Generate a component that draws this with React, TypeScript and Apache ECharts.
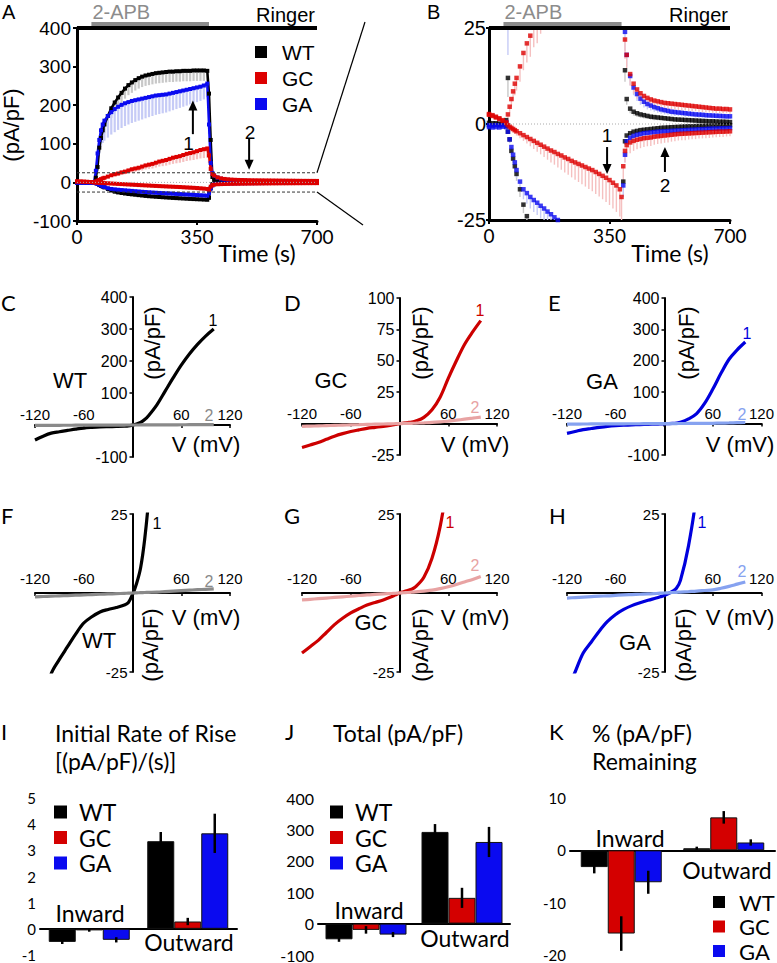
import React, { useEffect, useRef } from 'react';
import * as echarts from 'echarts';

// ---------- Time courses (A, B) ----------
const T = [0,10,20,30,40,
 50,55,60,65,70,75,80,
 90,100,110,120,130,140,150,160,170,180,
 190,200,210,220,230,240,250,260,270,280,
 290,300,310,320,330,340,350,360,370,380,
 385,390,395,
 400,410,420,430,440,450,460,470,480,490,
 500,510,520,530,540,550,560,570,580,590,
 600,610,620,630,640,650,660,670,680,690,
 700];

const WT_OUT = [0.3,0.2,0.2,0.1,0.1,
 1,12,40,90,115,135,150,
 172,192,207,220,232,243,252,259,265,270,
 274,277,279,281,283,284,285,286,287,287,
 288,288,289,289,289,290,290,290,290,289,
 230,110,14,
 6.5,4,3.2,2.8,2.5,2.3,2.1,1.9,1.8,1.7,
 1.6,1.5,1.4,1.3,1.2,1.15,1.1,1.05,1,0.95,
 0.9,0.85,0.8,0.75,0.7,0.7,0.65,0.6,0.6,0.55,
 0.5];
const WT_IN = [-0.3,-0.3,-0.2,-0.2,-0.1,
 -0.5,-2,-4,-7,-9,-11,-13,
 -17,-21,-24,-26,-27.5,-28.8,-30,-31,-32,-33,
 -34,-35,-35.8,-36.5,-37.2,-37.8,-38.4,-39,-39.6,-40.2,
 -40.7,-41.2,-41.7,-42.2,-42.7,-43.2,-43.6,-44,-44.5,-45,
 -40,-15,-4.5,
 -3,-2.4,-2,-1.8,-1.6,-1.5,-1.4,-1.3,-1.2,-1.1,
 -1,-0.95,-0.9,-0.85,-0.8,-0.75,-0.7,-0.65,-0.6,-0.6,
 -0.55,-0.5,-0.5,-0.45,-0.45,-0.4,-0.4,-0.35,-0.35,-0.3,
 -0.3];
const GC_OUT = [2.6,2.3,1.9,1.5,1,
 0.5,2.5,4.5,6.5,8.5,10.5,12,
 15,18.5,21,23,26,28,31,34,36,38,
 41,44,46,48,51,54,56,58,61,64,
 66,68,71,74,76,78,81,84,86,88,
 70,35,22,
 18,13,10.5,9,8,7.3,6.8,6.4,6.1,5.9,
 5.7,5.5,5.4,5.3,5.2,5.1,5,4.9,4.8,4.7,
 4.6,4.5,4.4,4.3,4.2,4.1,4,4,3.9,3.9,
 3.8];
const GC_IN = [2.4,2.1,1.7,1.3,0.8,
 0.2,-0.3,-0.7,-1,-1.3,-1.6,-1.9,
 -2.4,-2.9,-3.4,-3.9,-4.4,-4.9,-5.4,-5.9,-6.4,-6.9,
 -7.3,-7.8,-8.2,-8.7,-9.1,-9.6,-10,-10.4,-10.8,-11.2,
 -11.6,-12,-12.5,-13,-13.5,-14,-14.6,-15.3,-16,-17,
 -19,-11,-7,
 -5.5,-4.8,-4.4,-4.1,-3.9,-3.7,-3.6,-3.5,-3.3,-3.2,
 -3.1,-3,-2.9,-2.8,-2.7,-2.6,-2.55,-2.5,-2.45,-2.4,
 -2.35,-2.3,-2.25,-2.2,-2.15,-2.1,-2.05,-2,-2,-1.95,
 -1.9];
const GA_OUT = [-0.3,-0.4,-0.3,-0.4,-0.3,
 0.5,30,75,110,135,150,160,
 172,182,190,196,201,205,208,211,213,215,
 217,219,221,223,225,226,227,228,230,232,
 234,236,238,240,242,244,246,248,251,256,
 150,50,24,
 18,12.5,9.5,7.8,6.6,5.8,5.2,4.8,4.4,4.1,
 3.8,3.6,3.4,3.2,3.1,3,2.9,2.8,2.7,2.6,
 2.5,2.45,2.4,2.3,2.25,2.2,2.15,2.1,2.05,2,
 2];
const GA_IN = [-0.8,-0.9,-0.8,-0.9,-0.7,
 -0.8,-2,-4,-6,-8,-10,-12,
 -15,-17,-18,-19,-19.8,-20.5,-21.3,-22,-22.8,-23.5,
 -24.3,-25,-25.6,-26.2,-26.8,-27.3,-27.8,-28.3,-28.8,-29.3,
 -29.8,-30.3,-30.8,-31.3,-31.8,-32.3,-32.8,-33.3,-33.8,-34.5,
 -28,-16,-8,
 -4.5,-3.6,-3.1,-2.8,-2.6,-2.4,-2.3,-2.2,-2.1,-2,
 -1.95,-1.9,-1.85,-1.8,-1.75,-1.7,-1.65,-1.6,-1.55,-1.5,
 -1.45,-1.4,-1.35,-1.3,-1.25,-1.2,-1.2,-1.15,-1.1,-1.1,
 -1.05];

// SEM (drawn downward from each point)
const WT_OUT_SEM = [0.3,0.3,0.3,0.3,0.3,
 0.5,5,10,15,18,20,22,
 24,25,25,26,26,26,26,27,27,27,
 27,27,27,27,27,27,27,27,27,27,
 27,27,27,27,27,27,27,27,27,27,
 30,20,3,
 1.5,1.2,1,1,0.9,0.9,0.8,0.8,0.8,0.7,
 0.7,0.7,0.7,0.6,0.6,0.6,0.6,0.6,0.5,0.5,
 0.5,0.5,0.5,0.5,0.5,0.5,0.5,0.5,0.5,0.5,
 0.5];
const WT_IN_SEM = [0.3,0.3,0.3,0.3,0.3,
 0.3,0.5,0.8,1,1.2,1.5,1.8,
 2,2.2,2.4,2.6,2.8,3,3,3.2,3.2,3.4,
 3.4,3.5,3.5,3.6,3.6,3.7,3.7,3.8,3.8,3.8,
 3.9,3.9,4,4,4,4,4,4,4,4,
 3,2,1,
 0.6,0.5,0.5,0.5,0.4,0.4,0.4,0.4,0.4,0.4,
 0.3,0.3,0.3,0.3,0.3,0.3,0.3,0.3,0.3,0.3,
 0.3,0.3,0.3,0.3,0.3,0.3,0.3,0.3,0.3,0.3,
 0.3];
const GC_OUT_SEM = [0.5,0.5,0.5,0.5,0.5,
 0.5,1,1.5,2,2.5,3,3.3,
 4,4.5,5,5.5,6,7,7.5,8,8.5,9,
 10,10.5,11,12,12.5,13,14,14.5,15,16,
 16.5,17,18,18.5,19,20,21,22,23,24,
 20,10,5,
 3.5,3,2.6,2.4,2.2,2,2,1.9,1.8,1.8,
 1.7,1.7,1.6,1.6,1.5,1.5,1.5,1.4,1.4,1.4,
 1.3,1.3,1.3,1.3,1.2,1.2,1.2,1.2,1.1,1.1,
 1.1];
const GC_IN_SEM = [0.5,0.5,0.5,0.5,0.5,
 0.5,0.6,0.7,0.8,0.9,1,1.1,
 1.3,1.5,1.7,1.9,2.1,2.3,2.5,2.7,2.9,3.1,
 3.3,3.5,3.7,3.9,4.1,4.3,4.5,4.7,4.9,5.1,
 5.3,5.5,5.7,5.9,6.1,6.3,6.5,6.7,6.9,7.1,
 6,4,3,
 3,2.8,2.6,2.5,2.4,2.3,2.2,2.2,2.1,2,
 2,1.9,1.9,1.8,1.8,1.7,1.7,1.7,1.6,1.6,
 1.6,1.5,1.5,1.5,1.5,1.4,1.4,1.4,1.4,1.3,
 1.3];
const GA_OUT_SEM = [0.4,0.4,0.4,0.4,0.4,
 1,12,25,35,42,48,52,
 56,58,60,60,60,59,58,57,56,55,
 54,53,52,51,50,49,48,47,46,45,
 44,43,42,41,40,39,38,37,36,35,
 25,10,5,
 3,2.5,2,1.8,1.6,1.5,1.4,1.3,1.2,1.2,
 1.1,1.1,1,1,1,0.9,0.9,0.9,0.9,0.8,
 0.8,0.8,0.8,0.8,0.7,0.7,0.7,0.7,0.7,0.7,
 0.7];
const GA_IN_SEM = [0.3,0.3,0.3,0.3,0.3,
 0.3,0.6,1,1.3,1.6,1.9,2.1,
 2.4,2.6,2.8,3,3.1,3.2,3.3,3.4,3.5,3.6,
 3.7,3.8,3.9,4,4.1,4.2,4.3,4.4,4.5,4.6,
 4.7,4.8,4.9,5,5.1,5.2,5.3,5.4,5.5,5.6,
 5,3,2,
 1.5,1.4,1.3,1.2,1.2,1.1,1.1,1,1,1,
 0.9,0.9,0.9,0.9,0.8,0.8,0.8,0.8,0.8,0.7,
 0.7,0.7,0.7,0.7,0.7,0.6,0.6,0.6,0.6,0.6,
 0.6];

// application bar (s)
const APB_START = 42;
const APB_END = 385;

// ---------- I-V curves (C-H) ----------
const IV_V = [-120,-110,-100,-90,-80,-70,-60,-50,-40,-30,-20,-10,-5,0,5,10,15,20,30,40,50,60,70,80,90,100];
const WT1 = [-47,-35,-25.5,-21,-17,-13,-9.5,-7.5,-6,-5.2,-4.6,-3.8,-3,-0.5,3,8,17,30,63,105,147,187,222,252,278,300];
const WT2 = [-1.2,-1.1,-1,-0.9,-0.8,-0.7,-0.6,-0.5,-0.4,-0.3,-0.2,-0.1,-0.05,0,0.05,0.1,0.15,0.2,0.3,0.45,0.6,0.75,0.9,1.05,1.15,1.3];
const GC1 = [-19,-17,-15,-12.5,-10,-8,-6.3,-5,-3.8,-3,-2.2,-1.2,-0.6,0,0.4,0.8,1.2,2,5,11,21,36,50,63,73,82];
const GC2 = [-2.2,-2,-1.8,-1.6,-1.4,-1.2,-1,-0.8,-0.6,-0.45,-0.3,-0.15,-0.08,0,0.08,0.15,0.25,0.35,0.6,0.9,1.4,2,2.7,3.5,4.3,5.2];
const GA1 = [-31,-25,-19,-15.5,-12,-9,-6.8,-5.2,-4,-3.1,-2.3,-1.6,-1.2,-0.8,-0.2,0.5,1.5,4,15,32,65,110,160,205,235,260];
const GA2 = [-1.6,-1.45,-1.3,-1.15,-1,-0.9,-0.75,-0.6,-0.5,-0.4,-0.3,-0.15,-0.07,0,0.07,0.15,0.22,0.3,0.45,0.6,0.8,1,1.5,2.1,2.8,3.5];

// ---------- Bar charts (I-K) ----------
const BAR_CATS = ['Inward', 'Outward'];
const RATE_WT = [-0.5, 3.35];
const RATE_GC = [-0.06, 0.28];
const RATE_GA = [-0.42, 3.65];
const RATE_WT_ERR = [0.08, 0.35];
const RATE_GC_ERR = [0.05, 0.14];
const RATE_GA_ERR = [0.1, 0.75];
const TOTAL_WT = [-50, 292];
const TOTAL_GC = [-20, 82];
const TOTAL_GA = [-35, 260];
const TOTAL_WT_ERR = [8, 25];
const TOTAL_GC_ERR = [12, 32];
const TOTAL_GA_ERR = [8, 48];
const REM_WT = [-3.2, 0.4];
const REM_GC = [-15.9, 6.3];
const REM_GA = [-6.1, 1.5];
const REM_WT_ERR = [1.2, 0.3];
const REM_GC_ERR = [3.3, 1.2];
const REM_GA_ERR = [2.2, 0.6];

const GENO = ['WT', 'GC', 'GA'];
const C_BLACK = '#000000';
const C_RED = '#dd0000';
const C_BLUE = '#0a0af0';
const ARIAL = "'Liberation Sans', Arial, sans-serif";
const CAL = "Lato, 'Open Sans', sans-serif";
const BAR_W = 27;

export default function App() {
  const ref = useRef<HTMLDivElement>(null);
  useEffect(() => {
    const chart = echarts.init(ref.current as HTMLDivElement, null, { renderer: 'svg' });

    const grids = [
      { left: 77, top: 28, width: 240, height: 193 },
      { left: 489, top: 28, width: 241, height: 192 },
      { left: 35, top: 297, width: 195, height: 160 },
      { left: 302, top: 298, width: 195, height: 157 },
      { left: 567, top: 298, width: 195, height: 157 },
      { left: 35, top: 514, width: 195, height: 158 },
      { left: 302, top: 514, width: 195, height: 158 },
      { left: 567, top: 514, width: 195, height: 158 },
      { left: 40, top: 798, width: 197, height: 157 },
      { left: 318, top: 798, width: 192, height: 157 },
      { left: 570, top: 798, width: 205, height: 157 },
    ];

    const xAxes: any[] = [];
    const yAxes: any[] = [];
    const hide0 = (v: number) => (v === 0 ? '' : String(v));

    // A, B time axes
    [0, 1].forEach((g) => {
      xAxes.push({
        gridIndex: g, type: 'value', min: 0, max: 700, interval: 350,
        axisLine: { onZero: false, lineStyle: { color: '#000', width: 3 } },
        axisTick: { length: 4, lineStyle: { color: '#000', width: 2 } },
        axisLabel: { fontFamily: CAL, fontSize: 19, color: '#000', margin: 6 },
        splitLine: { show: false },
      });
    });
    yAxes.push({
      gridIndex: 0, type: 'value', min: -100, max: 400, interval: 100,
      axisLine: { onZero: false, lineStyle: { color: '#000', width: 3 } },
      axisTick: { length: 4, lineStyle: { color: '#000', width: 2 } },
      axisLabel: { fontFamily: ARIAL, fontSize: 19, color: '#000', margin: 6 },
      splitLine: { show: false },
    });
    yAxes.push({
      gridIndex: 1, type: 'value', min: -25, max: 25, interval: 25,
      axisLine: { onZero: false, lineStyle: { color: '#000', width: 3 } },
      axisTick: { length: 3, lineStyle: { color: '#000', width: 2 } },
      axisLabel: { fontFamily: ARIAL, fontSize: 20, color: '#000', margin: 3 },
      splitLine: { show: false },
    });

    // I-V axes C..H (grids 2..7); axes are moved onto the origin with offsets
    const ivY = [
      { min: -100, max: 400, interval: 100 },
      { min: -25, max: 100, interval: 25 },
      { min: -100, max: 400, interval: 100 },
      { min: -25, max: 25, interval: 25 },
      { min: -25, max: 25, interval: 25 },
      { min: -25, max: 25, interval: 25 },
    ];
    const V_MIN = -120, V_MAX = 120;
    ivY.forEach((yc, k) => {
      const gi = k + 2;
      const gr = grids[gi];
      const bottomRow = k >= 3;
      const xOff = -gr.height * (0 - yc.min) / (yc.max - yc.min);
      const yOff = -gr.width * (0 - V_MIN) / (V_MAX - V_MIN);
      xAxes.push({
        gridIndex: gi, type: 'value', min: V_MIN, max: V_MAX, interval: 60,
        position: 'bottom', offset: xOff,
        axisLine: { onZero: false, lineStyle: { color: '#000', width: 2 } },
        axisTick: { length: 3, lineStyle: { color: '#000', width: 1.5 } },
        axisLabel: { inside: true, margin: bottomRow ? 7 : 3, formatter: hide0, fontFamily: ARIAL, fontSize: 15, color: '#000' },
        splitLine: { show: false },
      });
      yAxes.push({
        gridIndex: gi, type: 'value', min: yc.min, max: yc.max, interval: yc.interval,
        position: 'left', offset: yOff,
        axisLine: { onZero: false, lineStyle: { color: '#000', width: 2 } },
        axisTick: { length: 3, lineStyle: { color: '#000', width: 1.5 } },
        axisLabel: { margin: 5, formatter: hide0, fontFamily: ARIAL, fontSize: bottomRow ? 15 : 16, color: '#000' },
        splitLine: { show: false },
      });
    });

    // Bar axes I..K (grids 8..10)
    const barY = [
      { min: -1, max: 5, interval: 1, fs: 15 },
      { min: -100, max: 400, interval: 100, fs: 16 },
      { min: -20, max: 10, interval: 10, fs: 15 },
    ];
    barY.forEach((yc, k) => {
      const gi = k + 8;
      xAxes.push({
        gridIndex: gi, type: 'category', data: BAR_CATS,
        axisLine: { onZero: true, lineStyle: { color: '#000', width: 2 } },
        axisTick: { show: false }, axisLabel: { show: false }, splitLine: { show: false },
      });
      yAxes.push({
        gridIndex: gi, type: 'value', min: yc.min, max: yc.max, interval: yc.interval,
        axisLine: { lineStyle: { color: '#000', width: 2 } },
        axisTick: { length: 3, lineStyle: { color: '#000', width: 1.5 } },
        axisLabel: { margin: 4, fontFamily: CAL, fontSize: yc.fs, color: '#000' },
        splitLine: { show: false },
      });
    });

    const series: any[] = [];

    const traces = [
      { out: WT_OUT, inw: WT_IN, so: WT_OUT_SEM, si: WT_IN_SEM, color: C_BLACK, err: '#c8c8c8' },
      { out: GA_OUT, inw: GA_IN, so: GA_OUT_SEM, si: GA_IN_SEM, color: C_BLUE, err: '#c6cbf6' },
      { out: GC_OUT, inw: GC_IN, so: GC_OUT_SEM, si: GC_IN_SEM, color: C_RED, err: '#f5c0c0' },
    ];

    const errRender = (color: string, w: number) => (params: any, api: any) => {
      const t = api.value(0), v = api.value(1), e = api.value(2);
      const a = api.coord([t, v]);
      const b = api.coord([t, v - e]);
      const cs = params.coordSys;
      const y1 = Math.max(cs.y, Math.min(cs.y + cs.height, a[1]));
      const y2 = Math.max(cs.y, Math.min(cs.y + cs.height, b[1]));
      if (Math.abs(y2 - y1) < 0.5) return null;
      return { type: 'line', shape: { x1: a[0], y1, x2: a[0], y2 }, style: { stroke: color, lineWidth: w } };
    };

    [0, 1].forEach((gi) => {
      traces.forEach((tr) => {
        [[tr.out, tr.so], [tr.inw, tr.si]].forEach(([vals, sem]) => {
          series.push({
            type: 'custom', xAxisIndex: gi, yAxisIndex: gi, silent: true, z: 1,
            data: T.map((t, i) => [t, vals[i], sem[i]]),
            encode: { x: 0, y: 1 },
            renderItem: errRender(tr.err, gi === 0 ? 2.2 : 1.4),
          });
        });
      });
      traces.forEach((tr) => {
        [tr.out, tr.inw].forEach((vals) => {
          if (gi === 0) {
            series.push({
              type: 'line', xAxisIndex: 0, yAxisIndex: 0, silent: true, z: 3,
              data: T.map((t, i) => [t, vals[i]]),
              symbol: 'rect', symbolSize: 4, showSymbol: true, showAllSymbol: true,
              lineStyle: { color: tr.color, width: 2.5 }, itemStyle: { color: tr.color },
              clip: true,
            });
          } else {
            series.push({
              type: 'scatter', xAxisIndex: 1, yAxisIndex: 1, silent: true, z: 3,
              data: T.map((t, i) => [t, vals[i]]),
              symbol: 'rect', symbolSize: 4.5, itemStyle: { color: tr.color }, clip: true,
            });
          }
        });
      });
    });

    // IV curves
    const ivSets = [
      { g: 2, c1: WT1, c2: WT2, col1: '#000000', col2: '#8a8a8a' },
      { g: 3, c1: GC1, c2: GC2, col1: '#cc0000', col2: '#e8a3a3' },
      { g: 4, c1: GA1, c2: GA2, col1: '#0000dd', col2: '#86a2f0' },
      { g: 5, c1: WT1, c2: WT2, col1: '#000000', col2: '#8a8a8a' },
      { g: 6, c1: GC1, c2: GC2, col1: '#cc0000', col2: '#e8a3a3' },
      { g: 7, c1: GA1, c2: GA2, col1: '#0000dd', col2: '#86a2f0' },
    ];
    ivSets.forEach((s) => {
      [[s.c1, s.col1], [s.c2, s.col2]].forEach(([vals, col]: any) => {
        series.push({
          type: 'line', xAxisIndex: s.g, yAxisIndex: s.g, silent: true,
          data: IV_V.map((v, i) => [v, vals[i]]),
          showSymbol: false, smooth: 0.35, clip: true,
          lineStyle: { color: col, width: 3.2 },
        });
      });
    });

    // Bars
    const barSets = [
      { g: 8, vals: [RATE_WT, RATE_GC, RATE_GA], errs: [RATE_WT_ERR, RATE_GC_ERR, RATE_GA_ERR] },
      { g: 9, vals: [TOTAL_WT, TOTAL_GC, TOTAL_GA], errs: [TOTAL_WT_ERR, TOTAL_GC_ERR, TOTAL_GA_ERR] },
      { g: 10, vals: [REM_WT, REM_GC, REM_GA], errs: [REM_WT_ERR, REM_GC_ERR, REM_GA_ERR] },
    ];
    const barColors = [C_BLACK, '#d40000', C_BLUE];
    const barErr = (k: number) => (params: any, api: any) => {
      const c = api.coord([api.value(0), api.value(1)]);
      const x = c[0] + (k - 1) * BAR_W;
      const top = api.coord([api.value(0), api.value(1) + api.value(2)])[1];
      const bot = api.coord([api.value(0), api.value(1) - api.value(2)])[1];
      return { type: 'line', shape: { x1: x, y1: top, x2: x, y2: bot }, style: { stroke: '#000', lineWidth: 2.5 } };
    };
    barSets.forEach((b) => {
      b.vals.forEach((vals, k) => {
        series.push({
          type: 'bar', name: GENO[k], xAxisIndex: b.g, yAxisIndex: b.g, silent: true,
          data: vals, barWidth: BAR_W, barGap: '0%',
          itemStyle: { color: barColors[k], borderColor: '#111', borderWidth: 1 },
        });
      });
      b.vals.forEach((vals, k) => {
        series.push({
          type: 'custom', xAxisIndex: b.g, yAxisIndex: b.g, silent: true, z: 5,
          data: vals.map((v, i) => [i, v, b.errs[k][i]]),
          encode: { x: 0, y: 1 },
          renderItem: barErr(k),
        });
      });
    });

    chart.setOption({
      animation: false,
      backgroundColor: '#ffffff',
      grid: grids,
      xAxis: xAxes,
      yAxis: yAxes,
      series,
    });

    const P = (gi: number, x: number, y: number) => chart.convertToPixel({ gridIndex: gi }, [x, y]) as number[];
    const txt = (text: string, x: number, y: number, o: any = {}) => ({
      type: 'text', x, y, silent: true, rotation: o.rot || 0, z: 10,
      style: {
        text, font: `${o.size || 20}px ${o.family || ARIAL}`, fill: o.color || '#000',
        textAlign: o.align || 'left', textVerticalAlign: 'middle',
      },
    });
    const ln = (x1: number, y1: number, x2: number, y2: number, o: any = {}) => ({
      type: 'line', silent: true, z: o.z || 10,
      shape: { x1, y1, x2, y2 },
      style: { stroke: o.color || '#000', lineWidth: o.w || 1, lineDash: o.dash || null },
    });
    const arrow = (x: number, yFrom: number, yTip: number) => {
      const dir = yTip < yFrom ? 1 : -1;
      return [
        ln(x, yFrom, x, yTip + dir * 7, { w: 2 }),
        { type: 'polygon', silent: true, z: 10, shape: { points: [[x, yTip], [x - 4.5, yTip + dir * 10], [x + 4.5, yTip + dir * 10]] }, style: { fill: '#000' } },
      ];
    };
    const sq = (x: number, y: number, size: number, color: string) => ({
      type: 'rect', silent: true, z: 10, shape: { x, y: y - size / 2, width: size, height: size }, style: { fill: color },
    });

    const g: any[] = [];
    // --- A ---
    const a0 = P(0, 0, 400), a1 = P(0, 700, 400);
    g.push(ln(a0[0], a0[1], a1[0], a1[1], { w: 4 }));
    const s0 = P(0, APB_START, 400), s1 = P(0, APB_END, 400);
    g.push({ type: 'rect', silent: true, z: 10, shape: { x: s0[0], y: s0[1] - 6, width: s1[0] - s0[0], height: 4 }, style: { fill: '#8c8c8c' } });
    g.push(txt('A', 2, 12, { size: 20 }));
    g.push(txt('2-APB', s0[0] + 1, 12, { size: 20, color: '#8c8c8c' }));
    g.push(txt('Ringer', a1[0] - 2, 15, { size: 20, align: 'right' }));
    [['WT', C_BLACK], ['GC', C_RED], ['GA', C_BLUE]].forEach(([n, c], i) => {
      g.push(sq(255, 52 + i * 26, 12, c));
      g.push(txt(n, 282, 52 + i * 26, { size: 21 }));
    });
    g.push(txt('(pA/pF)', 11, 125, { size: 22, rot: Math.PI / 2, align: 'center' }));
    g.push(txt('Time (s)', 257, 253, { size: 23, family: CAL, align: 'center' }));
    const zA0 = P(0, 0, 0), zA1 = P(0, 700, 0);
    g.push(ln(zA0[0], zA0[1], zA1[0], zA1[1], { color: '#aaa', dash: [1, 2] }));
    const p25a = P(0, 0, 25), p25b = P(0, 700, 25), m25a = P(0, 0, -25), m25b = P(0, 700, -25);
    g.push(ln(p25a[0], p25a[1], p25b[0], p25b[1], { color: '#333', dash: [3, 2] }));
    g.push(ln(m25a[0], m25a[1], m25b[0], m25b[1], { color: '#333', dash: [3, 2] }));
    g.push(ln(p25b[0], p25b[1], 365, 22, { w: 1.2 }));
    g.push(ln(m25b[0], m25b[1], 363, 225, { w: 1.2 }));
    const ar1 = P(0, 338, 125), ar1t = P(0, 338, 212);
    g.push(...arrow(ar1[0], ar1[1], ar1t[1]));
    const l1 = P(0, 325, 100);
    g.push(txt('1', l1[0], l1[1], { size: 19, align: 'center' }));
    const ar2 = P(0, 502, 115), ar2t = P(0, 502, 33);
    g.push(...arrow(ar2[0], ar2[1], ar2t[1]));
    const l2 = P(0, 505, 130);
    g.push(txt('2', l2[0], l2[1], { size: 19, align: 'center' }));

    // --- B ---
    const b0 = P(1, 0, 25), b1 = P(1, 700, 25);
    g.push(ln(b0[0], b0[1], b1[0], b1[1], { w: 4 }));
    const sb0 = P(1, APB_START, 25), sb1 = P(1, APB_END, 25);
    g.push({ type: 'rect', silent: true, z: 10, shape: { x: sb0[0], y: sb0[1] - 6, width: sb1[0] - sb0[0], height: 4 }, style: { fill: '#8c8c8c' } });
    g.push(txt('B', 427, 12, { size: 20 }));
    g.push(txt('2-APB', sb0[0] + 1, 12, { size: 20, color: '#8c8c8c' }));
    g.push(txt('Ringer', b1[0] - 2, 15, { size: 20, align: 'right' }));
    g.push(txt('Time (s)', 670, 253, { size: 23, family: CAL, align: 'center' }));
    const zB0 = P(1, 0, 0), zB1 = P(1, 700, 0);
    g.push(ln(zB0[0], zB0[1], zB1[0], zB1[1], { color: '#aaa', dash: [1, 2] }));
    const br1 = P(1, 343, -6), br1t = P(1, 343, -13);
    g.push(...arrow(br1[0], br1[1], br1t[1]));
    const bl1 = P(1, 343, -3);
    g.push(txt('1', bl1[0], bl1[1], { size: 19, align: 'center' }));
    const br2 = P(1, 511, -12.5), br2t = P(1, 511, -6);
    g.push(...arrow(br2[0], br2[1], br2t[1]));
    const bl2 = P(1, 511, -16);
    g.push(txt('2', bl2[0], bl2[1], { size: 19, align: 'center' }));

    // --- C..H texts ---
    const letters = [['C', 1, 302], ['D', 284, 302], ['E', 548, 302], ['F', 1, 515], ['G', 284, 515], ['H', 549, 515]];
    letters.forEach(([l, x, y]: any) => g.push(txt(l, x, y, { size: 22, family: CAL })));
    g.push(txt('WT', 70, 380, { size: 22, align: 'center' }));
    g.push(txt('GC', 331, 380, { size: 22, align: 'center' }));
    g.push(txt('GA', 602, 381, { size: 22, align: 'center' }));
    [152, 420, 686].forEach((x) => g.push(txt('(pA/pF)', x, 343, { size: 22, rot: Math.PI / 2, align: 'center' })));
    [206, 475, 740].forEach((x) => g.push(txt('V (mV)', x, 444, { size: 22, align: 'center' })));
    g.push(txt('1', 213, 320, { size: 16, align: 'center' }));
    g.push(txt('2', 209, 415, { size: 16, align: 'center', color: '#8a8a8a' }));
    g.push(txt('1', 480, 310, { size: 16, align: 'center', color: '#cc0000' }));
    g.push(txt('2', 475, 407, { size: 16, align: 'center', color: '#e8a3a3' }));
    g.push(txt('1', 747, 333, { size: 16, align: 'center', color: '#0000dd' }));
    g.push(txt('2', 742, 414, { size: 16, align: 'center', color: '#86a2f0' }));
    g.push(txt('WT', 99, 640, { size: 22, align: 'center' }));
    g.push(txt('GC', 371, 622, { size: 22, align: 'center' }));
    g.push(txt('GA', 635, 642, { size: 22, align: 'center' }));
    [150, 420, 683].forEach((x) => g.push(txt('(pA/pF)', x, 645, { size: 22, rot: Math.PI / 2, align: 'center' })));
    [206, 475, 740].forEach((x) => g.push(txt('V (mV)', x, 617, { size: 22, align: 'center' })));
    g.push(txt('1', 157, 523, { size: 16, align: 'center' }));
    g.push(txt('2', 209, 581, { size: 16, align: 'center', color: '#8a8a8a' }));
    g.push(txt('1', 450, 522, { size: 16, align: 'center', color: '#cc0000' }));
    g.push(txt('2', 475, 565, { size: 16, align: 'center', color: '#e8a3a3' }));
    g.push(txt('1', 702, 522, { size: 16, align: 'center', color: '#0000dd' }));
    g.push(txt('2', 742, 571, { size: 16, align: 'center', color: '#86a2f0' }));

    // --- I..K texts ---
    g.push(txt('I', 1, 731, { size: 22, family: CAL }));
    g.push(txt('J', 285, 731, { size: 22, family: CAL }));
    g.push(txt('K', 549, 731, { size: 22, family: CAL }));
    g.push(txt('Initial Rate of Rise', 55, 733, { size: 23, family: CAL }));
    g.push(txt('[(pA/pF)/(s)]', 55, 761, { size: 23, family: CAL }));
    g.push(txt('Total (pA/pF)', 333, 733, { size: 23, family: CAL }));
    g.push(txt('% (pA/pF)', 592, 733, { size: 23, family: CAL }));
    g.push(txt('Remaining', 592, 761, { size: 23, family: CAL }));
    const legCols = [C_BLACK, '#d40000', C_BLUE];
    [[54, 79], [330, 355]].forEach(([sx, tx]) => {
      GENO.forEach((n, i) => {
        g.push(sq(sx, 812 + i * 25.5, 13, legCols[i]));
        g.push(txt(n, tx, 812 + i * 25.5, { size: 23, family: CAL }));
      });
    });
    GENO.forEach((n, i) => {
      g.push(sq(713, 902 + i * 24.5, 12, legCols[i]));
      g.push(txt(n, 739, 902 + i * 24.5, { size: 22, family: CAL }));
    });
    g.push(txt('Inward', 90, 913, { size: 23, family: CAL, align: 'center' }));
    g.push(txt('Outward', 189, 942, { size: 23, family: CAL, align: 'center' }));
    g.push(txt('Inward', 369, 910, { size: 23, family: CAL, align: 'center' }));
    g.push(txt('Outward', 465, 938, { size: 23, family: CAL, align: 'center' }));
    g.push(txt('Inward', 630, 838, { size: 23, family: CAL, align: 'center' }));
    g.push(txt('Outward', 727, 870, { size: 23, family: CAL, align: 'center' }));

    chart.setOption({ graphic: g });

    return () => chart.dispose();
  }, []);

  return (
    <div
      ref={ref}
      style={{ position: 'absolute', left: 0, top: 0, width: 777, height: 963, background: '#fff' }}
    />
  );
}
